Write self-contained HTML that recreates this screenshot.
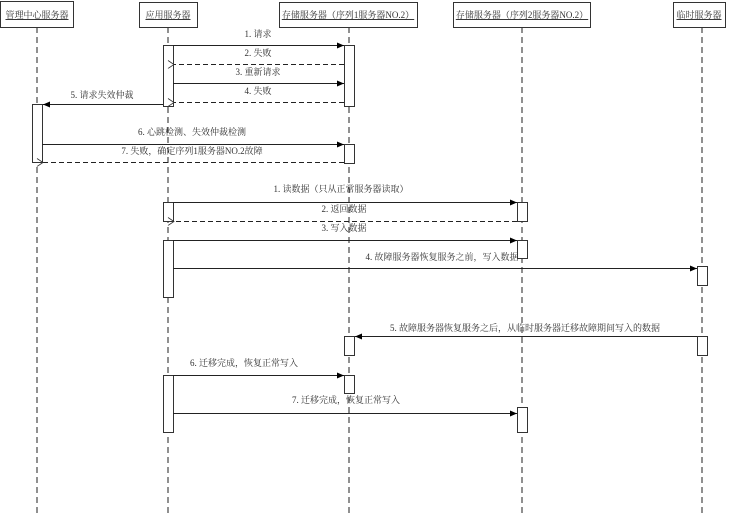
<!DOCTYPE html>
<html><head><meta charset="utf-8"><style>
html,body{margin:0;padding:0;background:#fff;}
svg text{font-family:"Liberation Serif","Noto Serif CJK SC","Noto Sans CJK SC",serif;font-size:9px;fill:#333;}
</style></head><body>
<svg width="731" height="514" viewBox="0 0 731 514" xmlns="http://www.w3.org/2000/svg">
<defs>
<marker id="a" markerWidth="8" markerHeight="8" refX="7" refY="3" orient="auto" markerUnits="userSpaceOnUse"><path d="M0,0 L7,3 L0,6 z" fill="#000"/></marker>
<marker id="o" markerWidth="8" markerHeight="10" refX="1" refY="4" orient="auto" markerUnits="userSpaceOnUse"><path d="M7,0 L1,4 L7,8" fill="none" stroke="#333" stroke-width="0.8"/></marker>
</defs>
<g stroke="#222" stroke-width="1" stroke-dasharray="6,4" fill="none">
<line x1="37" y1="27" x2="37" y2="514"/>
<line x1="168" y1="27" x2="168" y2="514"/>
<line x1="349" y1="27" x2="349" y2="514"/>
<line x1="522" y1="27" x2="522" y2="514"/>
<line x1="702" y1="27" x2="702" y2="514"/>
</g>
<g fill="#fff" stroke="#333" stroke-width="1">
<rect x="0.5" y="1.5" width="73" height="26"/>
<rect x="139.5" y="2.5" width="58" height="25"/>
<rect x="279.5" y="2.5" width="138" height="25"/>
<rect x="453.5" y="2.5" width="137" height="25"/>
<rect x="673.5" y="2.5" width="52" height="25"/>
</g>
<g text-decoration="underline" text-anchor="middle">
<text x="37" y="18" text-decoration="underline">管理中心服务器</text>
<text x="168" y="18" text-decoration="underline">应用服务器</text>
<text x="348" y="18" text-decoration="underline">存储服务器（序列1服务器NO.2）</text>
<text x="522" y="18" text-decoration="underline">存储服务器（序列2服务器NO.2）</text>
<text x="699" y="18" text-decoration="underline">临时服务器</text>
</g>
<g fill="#fff" stroke="#333" stroke-width="1">
<rect x="163.5" y="45.5" width="10" height="61"/>
<rect x="344.5" y="45.5" width="10" height="61"/>
<rect x="32.5" y="104.5" width="10" height="58"/>
<rect x="344.5" y="144.5" width="10" height="19"/>
<rect x="163.5" y="202.5" width="10" height="19"/>
<rect x="517.5" y="202.5" width="10" height="19"/>
<rect x="163.5" y="240.5" width="10" height="57"/>
<rect x="517.5" y="240.5" width="10" height="18"/>
<rect x="697.5" y="266.5" width="10" height="19"/>
<rect x="344.5" y="336.5" width="10" height="19"/>
<rect x="697.5" y="336.5" width="10" height="19"/>
<rect x="163.5" y="375.5" width="10" height="57"/>
<rect x="344.5" y="375.5" width="10" height="18"/>
<rect x="517.5" y="407.5" width="10" height="25"/>
</g>
<g stroke="#222" stroke-width="1" fill="none">
<line x1="173" y1="45.5" x2="344" y2="45.5" marker-end="url(#a)"/>
<line x1="344" y1="64.5" x2="174" y2="64.5" stroke-dasharray="5,3" marker-end="url(#o)"/>
<line x1="173" y1="83.5" x2="344" y2="83.5" marker-end="url(#a)"/>
<line x1="344" y1="102.5" x2="174" y2="102.5" stroke-dasharray="5,3" marker-end="url(#o)"/>
<line x1="163" y1="104.5" x2="43" y2="104.5" marker-end="url(#a)"/>
<line x1="42" y1="144.5" x2="344" y2="144.5" marker-end="url(#a)"/>
<line x1="344" y1="162.5" x2="43" y2="162.5" stroke-dasharray="5,3" marker-end="url(#o)"/>
<line x1="173" y1="202.5" x2="517" y2="202.5" marker-end="url(#a)"/>
<line x1="517" y1="221.5" x2="174" y2="221.5" stroke-dasharray="5,3" marker-end="url(#o)"/>
<line x1="173" y1="240.5" x2="517" y2="240.5" marker-end="url(#a)"/>
<line x1="173" y1="268.5" x2="697" y2="268.5" marker-end="url(#a)"/>
<line x1="697" y1="336.5" x2="355" y2="336.5" marker-end="url(#a)"/>
<line x1="173" y1="375.5" x2="344" y2="375.5" marker-end="url(#a)"/>
<line x1="173" y1="413.5" x2="517" y2="413.5" marker-end="url(#a)"/>
</g>
<g text-anchor="middle">
<text x="258" y="37">1. 请求</text>
<text x="258" y="56">2. 失败</text>
<text x="258" y="75">3. 重新请求</text>
<text x="258" y="94">4. 失败</text>
<text x="102" y="98">5. 请求失效仲裁</text>
<text x="192" y="135">6. 心跳检测、失效仲裁检测</text>
<text x="192" y="154">7. 失败，确定序列1服务器NO.2故障</text>
<text x="341" y="192">1. 读数据（只从正常服务器读取）</text>
<text x="344" y="212">2. 返回数据</text>
<text x="344" y="231">3. 写入数据</text>
<text x="442" y="260">4. 故障服务器恢复服务之前，写入数据</text>
<text x="525" y="331">5. 故障服务器恢复服务之后，从临时服务器迁移故障期间写入的数据</text>
<text x="244" y="366">6. 迁移完成，恢复正常写入</text>
<text x="346" y="403">7. 迁移完成，恢复正常写入</text>
</g>
</svg>
</body></html>
